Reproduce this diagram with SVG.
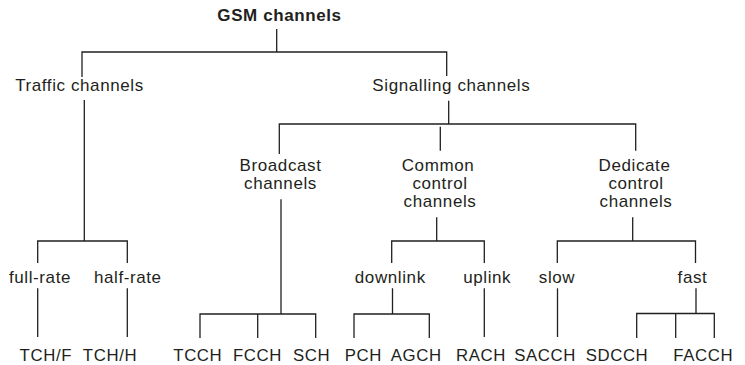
<svg xmlns="http://www.w3.org/2000/svg" width="745" height="365" viewBox="0 0 745 365">
<style>
text{font-family:"Liberation Sans",Arial,sans-serif;font-size:17px;fill:#231f20;text-anchor:middle;letter-spacing:0.6px}
.b{font-weight:bold}
.bot{font-size:16.8px}
#connectors path{fill:none;stroke:#231f20;stroke-width:1.3}
</style>
<rect width="745" height="365" fill="#fff"/>
<g id="connectors">
<path d="M276.7 29V52M82 77V52H446.7V76"/>
<path d="M84.3 100V241M37.7 263V241H127.3V263"/>
<path d="M448.7 100.7V124M279.3 154V124H635.7V150.7M440.3 126.7V150.7"/>
<path d="M281 199.3V314M200 338V314H315.7V338M257.7 314V338"/>
<path d="M436.7 217.3V241M391.7 263V241H484.3V263"/>
<path d="M392.5 288.3V314M354 338V314H429.3V338"/>
<path d="M484.3 288.3V337"/>
<path d="M632.7 217.3V241M557.3 263V241H695.5V263"/>
<path d="M557.5 288.3V337"/>
<path d="M696 288.3V313.5M636.7 338V313.5H714.3V338M675.7 313.5V338"/>
<path d="M37.7 288.3V337M127.3 288.3V337"/>
</g>
<g id="gsm"><text class="b" x="279.5" y="20.5">GSM channels</text></g>
<g id="traffic"><text x="79.5" y="91">Traffic channels</text></g>
<g id="signalling"><text x="451.3" y="91">Signalling channels</text></g>
<g id="broadcast"><text x="280.5" y="171">Broadcast</text><text x="280.5" y="189">channels</text></g>
<g id="common"><text x="438" y="171">Common</text><text x="440" y="189">control</text><text x="440" y="207">channels</text></g>
<g id="dedicate"><text x="634.5" y="171">Dedicate</text><text x="636" y="189">control</text><text x="636" y="207">channels</text></g>
<g id="fullrate"><text x="40" y="282.5">full-rate</text></g>
<g id="halfrate"><text x="127.8" y="282.5">half-rate</text></g>
<g id="downlink"><text x="390.3" y="282.5">downlink</text></g>
<g id="uplink"><text x="487.2" y="282.5">uplink</text></g>
<g id="slow"><text x="557" y="282.5">slow</text></g>
<g id="fast"><text x="692.5" y="282.5">fast</text></g>
<g id="tchf"><text class="bot" x="45.8" y="361">TCH/F</text></g>
<g id="tchh"><text class="bot" x="110" y="361">TCH/H</text></g>
<g id="tcch"><text class="bot" x="197.8" y="361">TCCH</text></g>
<g id="fcch"><text class="bot" x="257.5" y="361">FCCH</text></g>
<g id="sch"><text class="bot" x="311.7" y="361">SCH</text></g>
<g id="pch"><text class="bot" x="363.3" y="361">PCH</text></g>
<g id="agch"><text class="bot" x="416.2" y="361">AGCH</text></g>
<g id="rach"><text class="bot" x="481" y="361">RACH</text></g>
<g id="sacch"><text class="bot" x="545" y="361">SACCH</text></g>
<g id="sdcch"><text class="bot" x="617" y="361">SDCCH</text></g>
<g id="facch"><text class="bot" x="703.3" y="361">FACCH</text></g>
</svg>
